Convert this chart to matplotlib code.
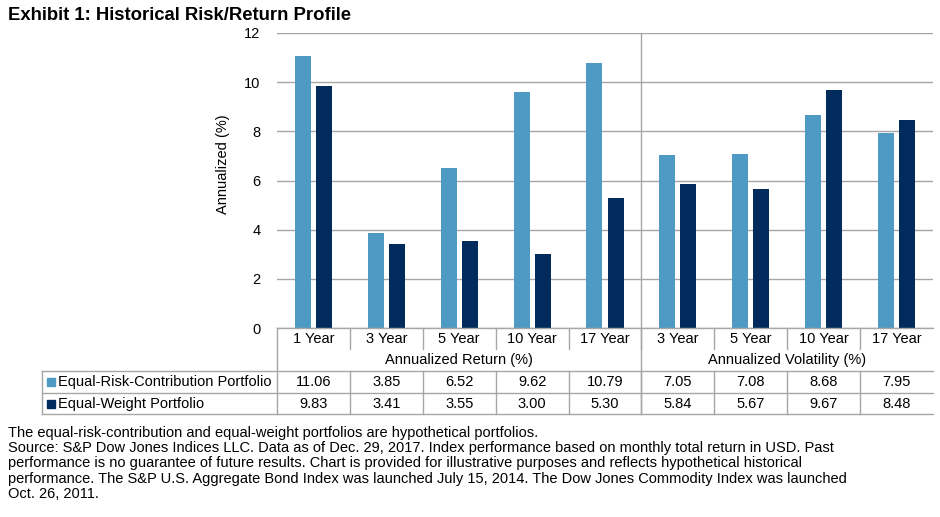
import matplotlib
matplotlib.use("Agg")
import matplotlib.pyplot as plt
import numpy as np
from matplotlib.transforms import blended_transform_factory
from matplotlib.patches import Rectangle
from matplotlib.lines import Line2D

# ---------------- data ----------------
periods = ["1 Year", "3 Year", "5 Year", "10 Year", "17 Year",
           "3 Year", "5 Year", "10 Year", "17 Year"]
groups = ["Annualized Return (%)", "Annualized Volatility (%)"]
group_sizes = [5, 4]
series_names = ["Equal-Risk-Contribution Portfolio", "Equal-Weight Portfolio"]
erc = [11.06, 3.85, 6.52, 9.62, 10.79, 7.05, 7.08, 8.68, 7.95]
ew = [9.83, 3.41, 3.55, 3.00, 5.30, 5.84, 5.67, 9.67, 8.48]
yticks = [0, 2, 4, 6, 8, 10, 12]

title = "Exhibit 1: Historical Risk/Return Profile"
notes = [
    "The equal-risk-contribution and equal-weight portfolios are hypothetical portfolios.",
    "Source: S&P Dow Jones Indices LLC. Data as of Dec. 29, 2017. Index performance based on monthly total return in USD. Past",
    "performance is no guarantee of future results. Chart is provided for illustrative purposes and reflects hypothetical historical",
    "performance. The S&P U.S. Aggregate Bond Index was launched July 15, 2014. The Dow Jones Commodity Index was launched",
    "Oct. 26, 2011.",
]

C_ERC = "#4E9AC5"
C_EW = "#002B5C"
GRID = "#A6A6A6"
FS = 10.5

plt.rcParams["font.family"] = ["Liberation Sans", "DejaVu Sans"]

W, H = 940, 517
fig = plt.figure(figsize=(W / 100, H / 100), dpi=100)


def fx(px):
    return px / W


def fy(py):
    return 1 - py / H


# plot area in pixels
L, R, T, B = 277, 933, 33, 328
ax = fig.add_axes([fx(L), fy(B), fx(R) - fx(L), fy(T) - fy(B)])

x = np.arange(len(periods))
bw = 0.22
ax.bar(x - 0.145, erc, width=bw, color=C_ERC, zorder=3)
ax.bar(x + 0.145, ew, width=bw, color=C_EW, zorder=3)

ax.set_xlim(-0.5, len(periods) - 0.5)
ax.set_ylim(0, 12)
ax.set_yticks(yticks)
ax.set_yticklabels([str(v) for v in yticks], fontsize=FS)
ax.tick_params(axis="y", length=0, pad=12)
ax.set_xticks([])
ax.yaxis.grid(True, color=GRID, lw=1)
ax.set_axisbelow(True)
for s in ax.spines.values():
    s.set_visible(False)
ax.set_ylabel("Annualized (%)", fontsize=FS)
ax.yaxis.set_label_coords(-(L - 230) / (R - L), (B - 164) / (B - T))

# table drawn under the axes: x in data units, y in figure pixels
tr = blended_transform_factory(ax.transData, fig.transFigure)
ftr = fig.transFigure


def hline(x0, x1, y, trans=ftr):
    fig.add_artist(Line2D([x0, x1], [fy(y), fy(y)], transform=trans,
                          color=GRID, lw=1))


def vline(xv, y0, y1, trans=ftr):
    fig.add_artist(Line2D([xv, xv], [fy(y0), fy(y1)], transform=trans,
                          color=GRID, lw=1))


ROW_CAT, ROW_GRP, ROW_S1, ROW_S2, ROW_END = 328, 349, 371, 393, 414
TL = 42

hline(-0.5, len(periods) - 0.5, ROW_CAT, tr)
hline(fx(TL), fx(R), ROW_S1)
hline(fx(TL), fx(R), ROW_S2)
hline(fx(TL), fx(R), ROW_END)
vline(fx(TL), ROW_S1, ROW_END)
vline(-0.5, ROW_CAT, ROW_END, tr)
for i in range(1, len(periods)):
    vline(i - 0.5, ROW_CAT, ROW_GRP, tr)
    vline(i - 0.5, ROW_S1, ROW_END, tr)

# group separator runs through plot and table
split = group_sizes[0] - 0.5
vline(split, T, ROW_END, tr)

for i, p in enumerate(periods):
    fig.text(i, fy(339), p, transform=tr, ha="center", va="center", fontsize=FS)
start = 0
for g, n in zip(groups, group_sizes):
    fig.text(start + (n - 1) / 2, fy(360), g, transform=tr,
             ha="center", va="center", fontsize=FS)
    start += n

rows = [(series_names[0], erc, C_ERC, 382), (series_names[1], ew, C_EW, 404)]
for name, vals, col, yc in rows:
    fig.add_artist(Rectangle((fx(47), fy(yc + 4)), fx(8), fy(0) - fy(8),
                             transform=ftr, color=col))
    fig.text(fx(58), fy(yc), name, ha="left", va="center", fontsize=FS)
    for i, v in enumerate(vals):
        fig.text(i, fy(yc), f"{v:.2f}", transform=tr,
                 ha="center", va="center", fontsize=FS)

fig.text(fx(8), fy(15), title, ha="left", va="center",
         fontsize=13.3, fontweight="bold")

for k, line in enumerate(notes):
    fig.text(fx(8), fy(433 + 15.2 * k), line, ha="left", va="center",
             fontsize=10.5)

fig.savefig("out.png", dpi=100)
